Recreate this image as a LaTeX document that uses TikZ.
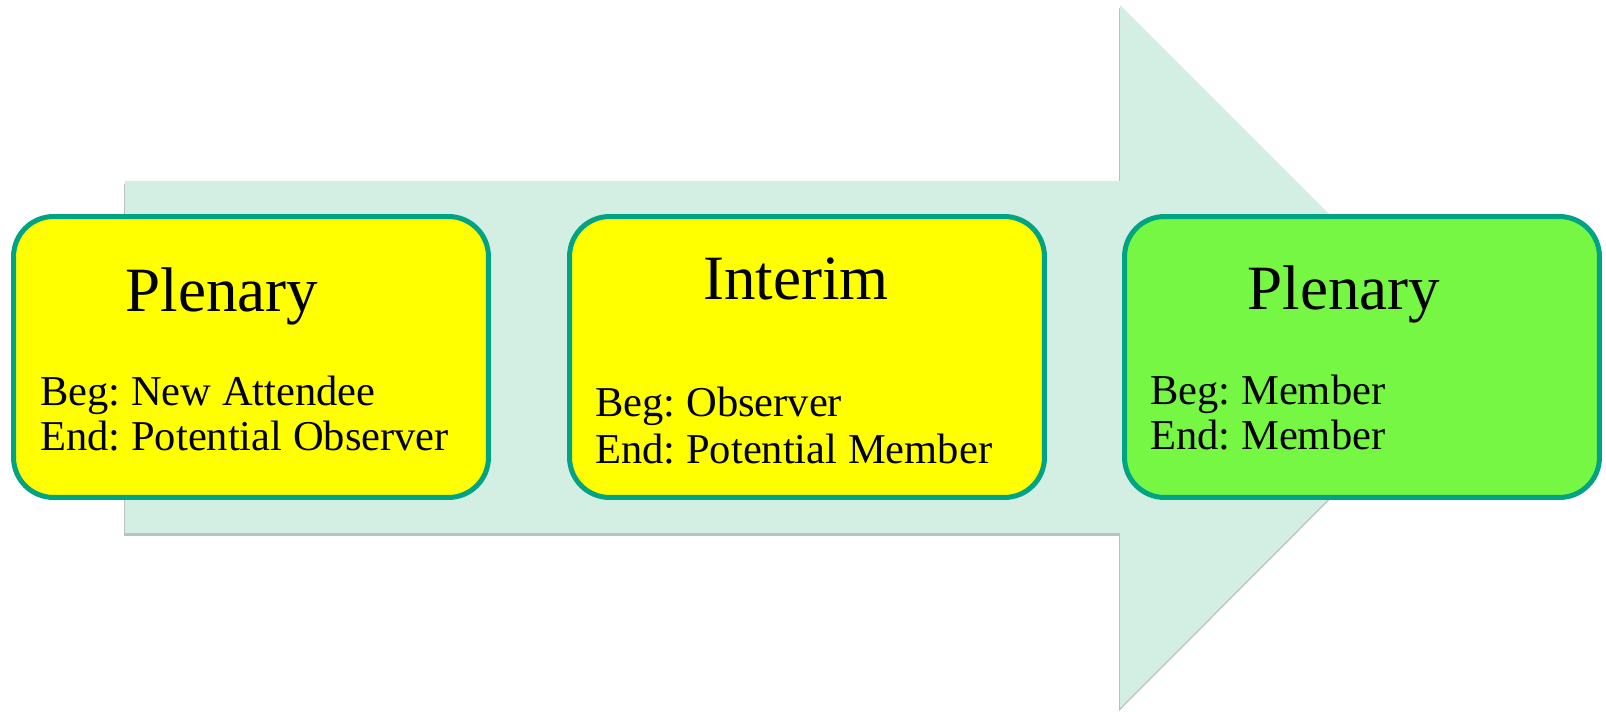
\documentclass[tikz,border=0pt]{standalone}
\usepackage{fontspec}
\setmainfont{Liberation Serif}
\usetikzlibrary{shadows}
\definecolor{arrowfill}{RGB}{211,238,227}
\definecolor{stageline}{RGB}{0,163,131}
\definecolor{stageyellow}{RGB}{255,255,0}
\definecolor{stagegreen}{RGB}{118,247,67}
\frenchspacing
\begin{document}
\begin{tikzpicture}[x=0.02cm,y=-0.02cm,
    stage/.style={draw=stageline,line width=0.1cm,rounded corners=0.8cm,minimum width=9.5cm,minimum height=5.62cm,inner sep=0pt},
    stagetitle/.style={inner sep=0pt,anchor=base,font=\fontsize{35.9}{40}\selectfont},
    stagetext/.style={inner sep=0pt,anchor=base west,align=left,font=\fontsize{24.2}{25.8}\selectfont}]
    \useasboundingbox (0,0) rectangle (1606,712);
    \fill[arrowfill,drop shadow={shadow xshift=-0.02cm,shadow yshift=-0.06cm,opacity=0.25,fill=black}]
        (125,181)--(1120,181)--(1120,5)--(1471,356)--(1120,708)--(1120,533)--(125,533)--cycle;
    \node[stage,fill=stageyellow](plen1) at (251,357){};
    \node[stage,fill=stageyellow](inter) at (807,357){};
    \node[stage,fill=stagegreen](plen2) at (1362,357){};
    \node[stagetitle](plen1title) at (222,312){Plenary};
    \node[stagetitle](intertitle) at (796,300){Interim};
    \node[stagetitle](plen2title) at (1344,310){Plenary};
    \node[stagetext](plen1text) at (40,451){Beg: New Attendee\\End: Potential Observer};
    \node[stagetext,font=\fontsize{24.2}{26.8}\selectfont](intertext) at (595,464){Beg: Observer\\End: Potential Member};
    \node[stagetext](plen2text) at (1150,450){Beg: Member\\End: Member};
\end{tikzpicture}
\end{document}
